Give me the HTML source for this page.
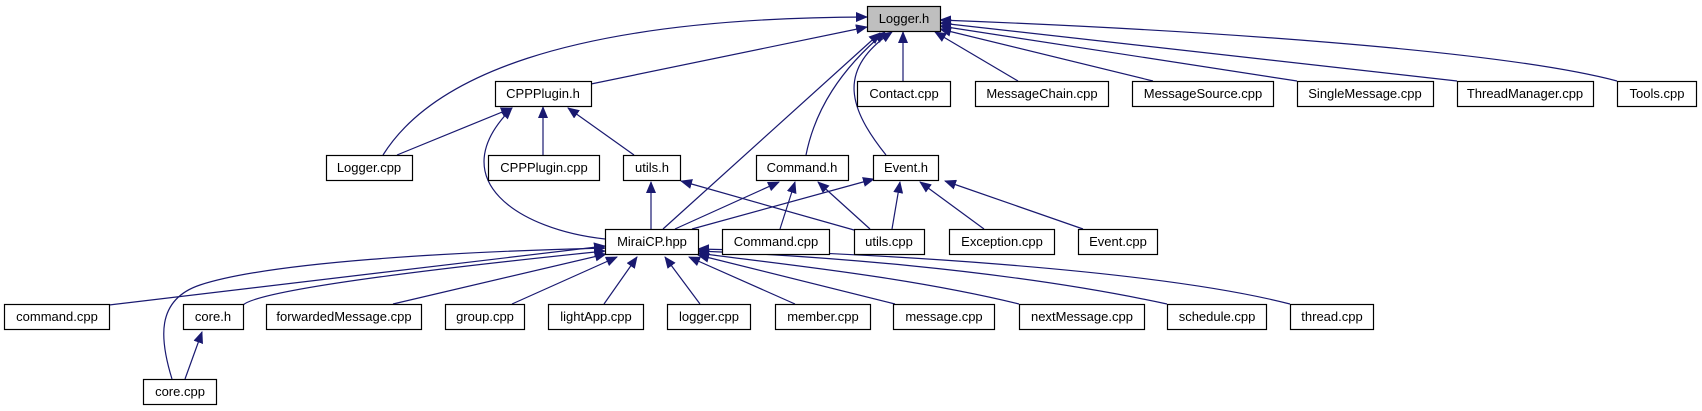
<!DOCTYPE html>
<html><head><meta charset="utf-8"><style>
html,body{margin:0;padding:0;background:#fff;}
svg{display:block;}
text{font-family:"Liberation Sans",sans-serif;font-size:13px;fill:#000;}
</style></head><body>
<svg width="1702" height="411" viewBox="0 0 1702 411" xmlns="http://www.w3.org/2000/svg">
<defs>
<marker id="a" markerWidth="12" markerHeight="10" refX="11" refY="5" orient="auto" markerUnits="userSpaceOnUse">
<path d="M0,0 L12,5 L0,10 z" fill="#191970"/>
</marker>
</defs>
<g fill="none" stroke="#191970" stroke-width="1.2" marker-end="url(#a)">
<!-- to Logger.h -->
<path d="M383,155 C430,80 560,18 867,17"/>
<path d="M591,84 L867,27"/>
<path d="M663,229 L880,33"/>
<path d="M806,155 C815,110 840,70 885,32"/>
<path d="M886,155 C850,110 835,70 892,32"/>
<path d="M903,81 L903,32"/>
<path d="M1018,81 L935,32"/>
<path d="M1153,81 L940,29"/>
<path d="M1297,81 L940,26"/>
<path d="M1457,81 L940,23"/>
<path d="M1617,81 C1500,50 1200,30 940,20"/>
<!-- to CPPPlugin.h -->
<path d="M397,155 L512,108"/>
<path d="M543,155 L543,107"/>
<path d="M634,155 L568,108"/>
<path d="M605,239 C520,230 440,180 512,108"/>
<!-- to utils.h -->
<path d="M651,229 L651,182"/>
<path d="M854,230 L681,181"/>
<!-- to Command.h -->
<path d="M675,229 L779,182"/>
<path d="M780,229 L795,182"/>
<path d="M870,229 L818,182"/>
<!-- to Event.h -->
<path d="M692,229 L874,179"/>
<path d="M892,229 L900,182"/>
<path d="M984,229 L920,182"/>
<path d="M1083,229 L945,181"/>
<!-- to MiraiCP.hpp -->
<path d="M109,305 L605,246"/>
<path d="M172,379 C160,340 155,300 200,285 C270,262 450,252 605,248"/>
<path d="M243,305 C260,290 420,270 605,251"/>
<path d="M393,304 L606,254"/>
<path d="M512,304 L617,257"/>
<path d="M604,304 L637,257"/>
<path d="M700,304 L665,257"/>
<path d="M795,304 L689,257"/>
<path d="M895,304 L698,255"/>
<path d="M1019,304 C900,275 760,262 698,253"/>
<path d="M1167,304 C1000,268 800,255 698,251"/>
<path d="M1290,304 C1150,268 850,252 698,249"/>
<!-- core.h -> core.cpp -->
<path d="M185,379 L202,332"/>
</g>
<g stroke="#000" stroke-width="1.2" fill="#fff">
<rect x="867.5" y="6.5" width="73" height="25" fill="#bfbfbf"/>
<rect x="495.5" y="81.5" width="96" height="25"/>
<rect x="857.5" y="81.5" width="93" height="25"/>
<rect x="975.5" y="81.5" width="133" height="25"/>
<rect x="1132.5" y="81.5" width="141" height="25"/>
<rect x="1297.5" y="81.5" width="136" height="25"/>
<rect x="1457.5" y="81.5" width="136" height="25"/>
<rect x="1617.5" y="81.5" width="79" height="25"/>
<rect x="326.5" y="155.5" width="86" height="25"/>
<rect x="488.5" y="155.5" width="111" height="25"/>
<rect x="623.5" y="155.5" width="57" height="25"/>
<rect x="756.5" y="155.5" width="92" height="25"/>
<rect x="873.5" y="155.5" width="65" height="25"/>
<rect x="605.5" y="229.5" width="93" height="25"/>
<rect x="722.5" y="229.5" width="107" height="25"/>
<rect x="854.5" y="229.5" width="70" height="25"/>
<rect x="949.5" y="229.5" width="105" height="25"/>
<rect x="1078.5" y="229.5" width="79" height="25"/>
<rect x="4.5" y="304.5" width="105" height="25"/>
<rect x="183.5" y="304.5" width="60" height="25"/>
<rect x="266.5" y="304.5" width="155" height="25"/>
<rect x="445.5" y="304.5" width="79" height="25"/>
<rect x="548.5" y="304.5" width="95" height="25"/>
<rect x="667.5" y="304.5" width="83" height="25"/>
<rect x="775.5" y="304.5" width="95" height="25"/>
<rect x="893.5" y="304.5" width="101" height="25"/>
<rect x="1019.5" y="304.5" width="125" height="25"/>
<rect x="1167.5" y="304.5" width="99" height="25"/>
<rect x="1290.5" y="304.5" width="83" height="25"/>
<rect x="143.5" y="379.5" width="73" height="25"/>
</g>
<g text-anchor="middle">
<text x="904" y="23">Logger.h</text>
<text x="543" y="98">CPPPlugin.h</text>
<text x="904" y="98">Contact.cpp</text>
<text x="1042" y="98">MessageChain.cpp</text>
<text x="1203" y="98">MessageSource.cpp</text>
<text x="1365" y="98">SingleMessage.cpp</text>
<text x="1525" y="98">ThreadManager.cpp</text>
<text x="1657" y="98">Tools.cpp</text>
<text x="369" y="172">Logger.cpp</text>
<text x="544" y="172">CPPPlugin.cpp</text>
<text x="652" y="172">utils.h</text>
<text x="802" y="172">Command.h</text>
<text x="906" y="172">Event.h</text>
<text x="652" y="246">MiraiCP.hpp</text>
<text x="776" y="246">Command.cpp</text>
<text x="889" y="246">utils.cpp</text>
<text x="1002" y="246">Exception.cpp</text>
<text x="1118" y="246">Event.cpp</text>
<text x="57" y="321">command.cpp</text>
<text x="213" y="321">core.h</text>
<text x="344" y="321">forwardedMessage.cpp</text>
<text x="485" y="321">group.cpp</text>
<text x="596" y="321">lightApp.cpp</text>
<text x="709" y="321">logger.cpp</text>
<text x="823" y="321">member.cpp</text>
<text x="944" y="321">message.cpp</text>
<text x="1082" y="321">nextMessage.cpp</text>
<text x="1217" y="321">schedule.cpp</text>
<text x="1332" y="321">thread.cpp</text>
<text x="180" y="396">core.cpp</text>
</g>
</svg>
</body></html>
